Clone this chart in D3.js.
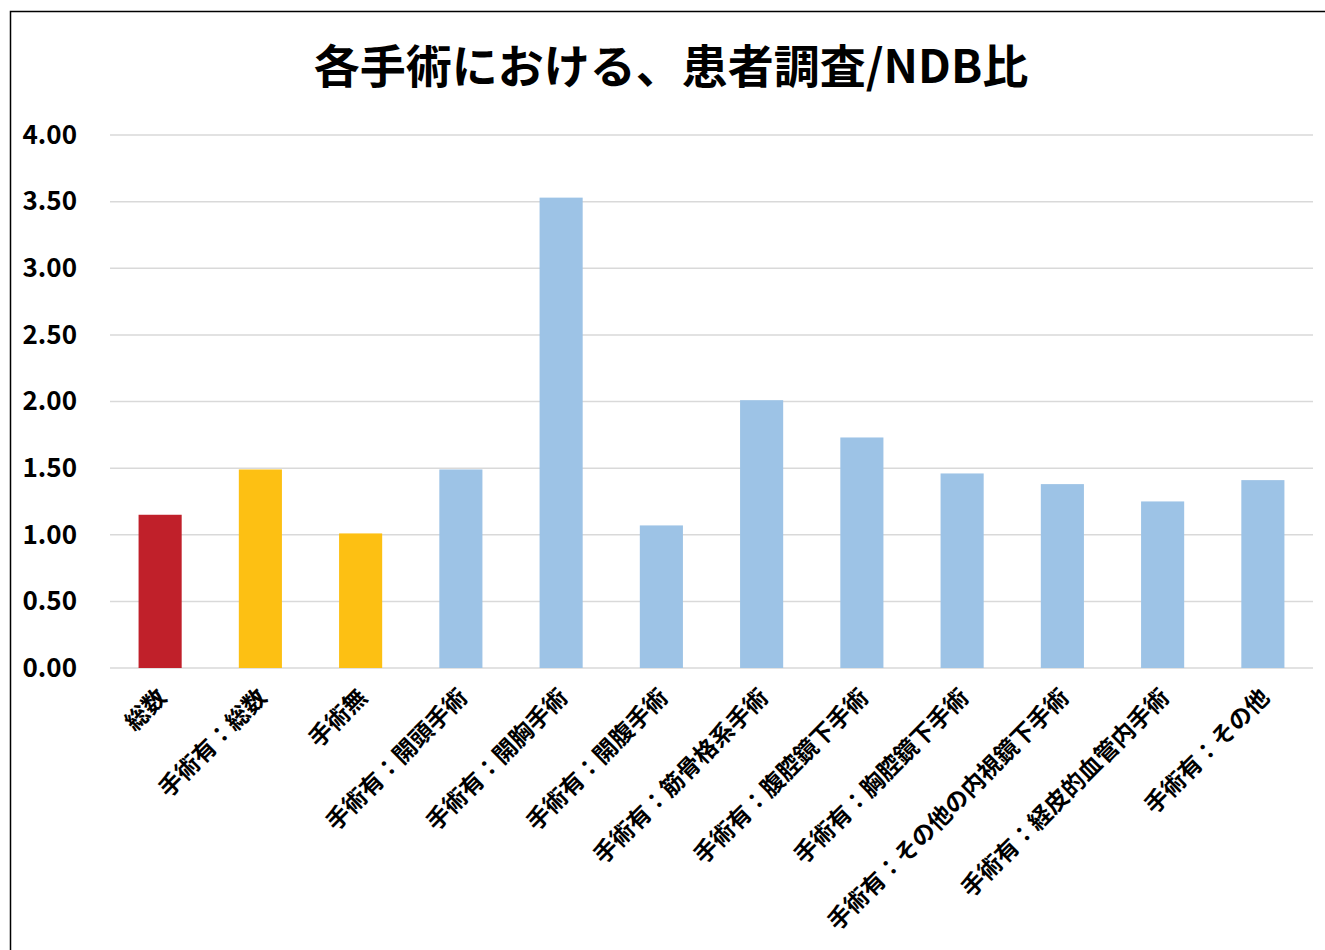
<!DOCTYPE html>
<html>
<head>
<meta charset="utf-8">
<script src="https://cdn.jsdelivr.net/npm/d3@7"></script>
<style>
  body { margin: 0; background: #fff; }
  text { font-family: "Noto Sans CJK JP", sans-serif; font-weight: bold; fill: #000; }
</style>
</head>
<body>
<div id="chart"></div>
<script>
let width = 1325;
let height = 950;

// chart data
let categories = [
  "総数", "手術有：総数", "手術無", "手術有：開頭手術", "手術有：開胸手術",
  "手術有：開腹手術", "手術有：筋骨格系手術", "手術有：腹腔鏡下手術",
  "手術有：胸腔鏡下手術", "手術有：その他の内視鏡下手術",
  "手術有：経皮的血管内手術", "手術有：その他"
];
let ratios = [1.15, 1.49, 1.01, 1.49, 3.53, 1.07, 2.01, 1.73, 1.46, 1.38, 1.25, 1.41];
let groups = ["total", "split", "split", "detail", "detail", "detail", "detail",
  "detail", "detail", "detail", "detail", "detail"];
let yTicks = [0, 0.5, 1, 1.5, 2, 2.5, 3, 3.5, 4];
let title = "各手術における、患者調査/NDB比";

let colors = { total: "#C0202A", split: "#FDC013", detail: "#9DC3E6" };

let margin = { left: 110, right: 12, top: 135, bottom: 282 };

let svg = d3.select("#chart")
  .append("svg")
  .attr("width", width)
  .attr("height", height);

// outer frame (only top and left edges fall inside the picture)
svg.append("rect")
  .attr("x", 10.5)
  .attr("y", 11.5)
  .attr("width", width + 20)
  .attr("height", height + 20)
  .attr("fill", "none")
  .attr("stroke", "#000")
  .attr("stroke-width", 1.5);

let x = d3.scaleBand()
  .domain(categories)
  .range([margin.left, width - margin.right])
  .paddingInner(0.57)
  .paddingOuter(0.285);

let y = d3.scaleLinear()
  .domain([0, 4])
  .range([height - margin.bottom, margin.top]);

// gridlines
svg.append("g")
  .selectAll("line")
  .data(yTicks)
  .enter().append("line")
  .attr("x1", margin.left)
  .attr("x2", width - margin.right)
  .attr("y1", d => y(d))
  .attr("y2", d => y(d))
  .attr("stroke", "#d9d9d9")
  .attr("stroke-width", 1.5);

// y axis labels
let yAxis = d3.axisLeft(y)
  .tickValues(yTicks)
  .tickFormat(d3.format(".2f"))
  .tickSize(0)
  .tickPadding(33);
let gy = svg.append("g")
  .attr("transform", "translate(" + margin.left + ",0)")
  .call(yAxis);
gy.select(".domain").remove();
gy.selectAll("text")
  .style("font-size", "26px")
  .attr("fill", "#000");

// bars
svg.append("g")
  .selectAll("rect")
  .data(categories)
  .enter().append("rect")
  .attr("x", d => x(d))
  .attr("width", x.bandwidth())
  .attr("y", (d, i) => y(ratios[i]))
  .attr("height", (d, i) => y(0) - y(ratios[i]))
  .attr("fill", (d, i) => colors[groups[i]]);

// category labels, rotated
svg.append("g")
  .selectAll("text")
  .data(categories)
  .enter().append("text")
  .attr("transform", d => "translate(" + (x(d) + x.bandwidth() / 2 + 8) + "," + (y(0) + 31) + ") rotate(-45)")
  .attr("text-anchor", "end")
  .style("font-size", "23.5px")
  .text(d => d);

// title
svg.append("text")
  .attr("x", 671)
  .attr("y", 83)
  .attr("text-anchor", "middle")
  .style("font-size", "46px")
  .text(title);
</script>
</body>
</html>
